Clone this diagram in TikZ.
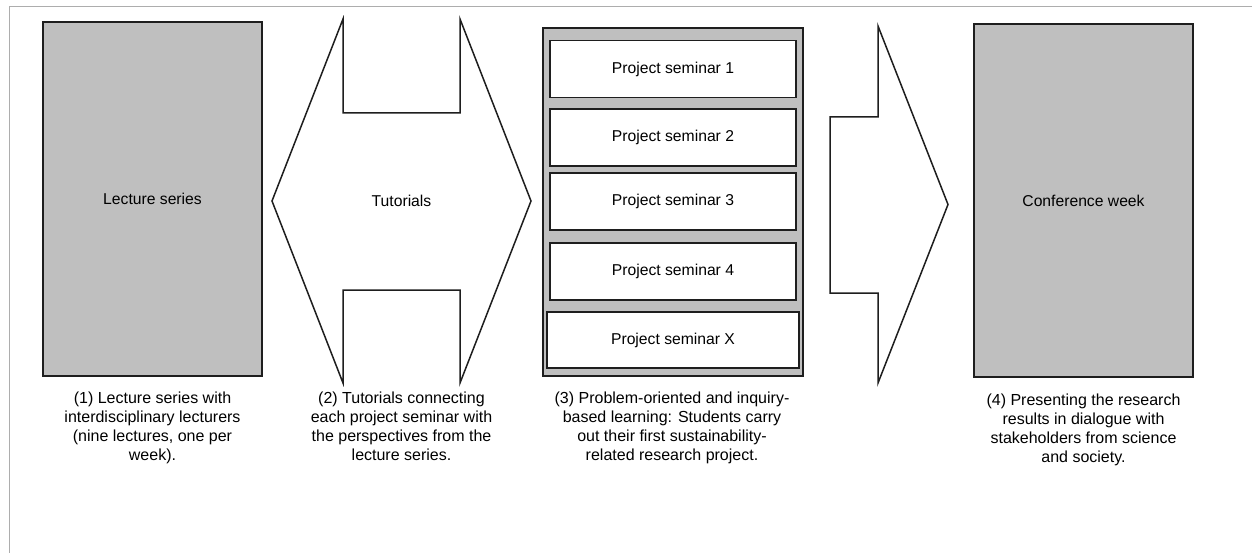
\documentclass[tikz,border=0pt]{standalone}
\usepackage{fontspec}
\setmainfont{Liberation Sans}
\definecolor{boxgray}{HTML}{BFBFBF}
\definecolor{edgedark}{HTML}{1E1E1E}
\definecolor{framegray}{HTML}{ADADAD}
\tikzset{
  edge/.style={draw=edgedark, line width=1.5pt, line join=miter},
  graybox/.style={edge, fill=boxgray, inner sep=0pt},
  seminarbox/.style={edge, fill=white, inner sep=0pt, minimum height=57pt},
  label/.style={font=\fontsize{15.7}{18.8}\selectfont, text=black},
  caption/.style={font=\fontsize{16}{19}\selectfont, text=black, align=center, anchor=north, inner sep=0pt}
}
\begin{document}
\begin{tikzpicture}[x=1pt,y=-1pt]
\useasboundingbox (0,0) rectangle (1252,553);
% page frame
\draw[framegray, line width=1.5pt] (9.5,553) -- (9.5,6.5) -- (1252,6.5);

% (1) lecture series
\node[graybox, label, minimum width=219pt, minimum height=354pt] (lecture) at (152.5,199) {Lecture series};

% (2) tutorials: double arrow
\draw[edge, fill=white] (343,19) -- (343,113) -- (460,113) -- (460,19) -- (531,201)
  -- (460,383) -- (460,290) -- (343,290) -- (343,383) -- (272,201) -- cycle;
\node[label] (tutorials) at (401.5,201) {Tutorials};

% (3) project seminars
\node[graybox, minimum width=260pt, minimum height=348pt] (seminars) at (673,202) {};
\node[seminarbox, label, minimum width=246pt] (ps1) at (673,69) {Project seminar 1};
\node[seminarbox, label, minimum width=246pt] (ps2) at (673,137.5) {Project seminar 2};
\node[seminarbox, label, minimum width=246pt] (ps3) at (673,201.5) {Project seminar 3};
\node[seminarbox, label, minimum width=246pt] (ps4) at (673,271.5) {Project seminar 4};
\node[seminarbox, label, minimum width=252pt, minimum height=56pt] (psx) at (673,340) {Project seminar X};

% arrow towards the conference
\draw[edge, fill=white] (830,117) -- (878,117) -- (878,26) -- (948,204.5)
  -- (878,383) -- (878,293) -- (830,293) -- cycle;

% (4) conference week
\node[graybox, label, minimum width=219pt, minimum height=353pt] (conference) at (1083.5,200.5) {Conference week};

% captions
\node[caption] (cap1) at (152.5,392) {(1) Lecture series with\\interdisciplinary lecturers\\(nine lectures, one per\\week).};
\node[caption] (cap2) at (401.5,392) {(2) Tutorials connecting\\each project seminar with\\the perspectives from the\\lecture series.};
\node[caption] (cap3) at (672,392) {(3) Problem-oriented and inquiry-\\based learning: Students carry\\out their first sustainability-\\related research project.};
\node[caption] (cap4) at (1083.5,394) {(4) Presenting the research\\results in dialogue with\\stakeholders from science\\and society.};
\end{tikzpicture}
\end{document}
